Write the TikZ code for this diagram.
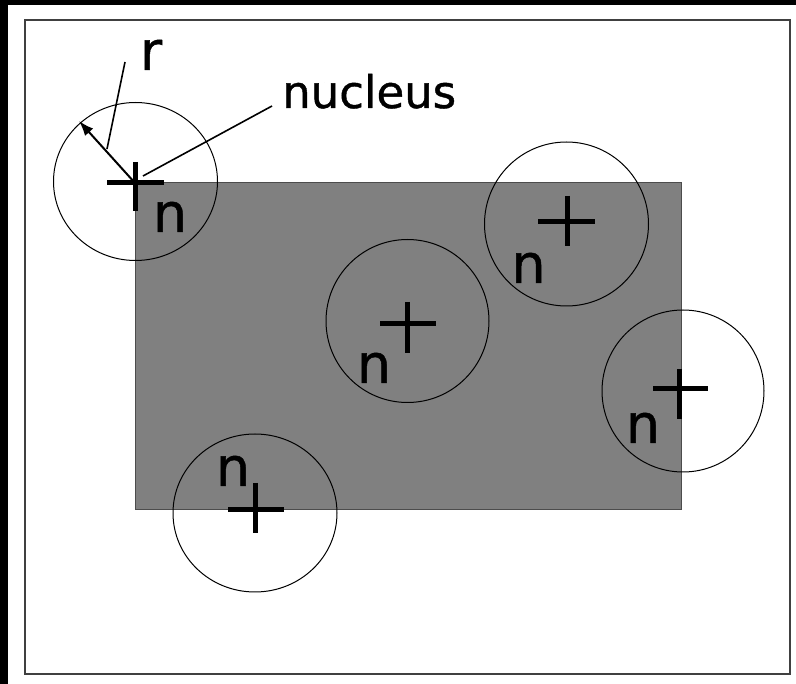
\documentclass[tikz,border=0pt]{standalone}
\usepackage{fontspec}
\newfontfamily\lab[FakeBold=0.9]{DejaVu Sans}
\usetikzlibrary{arrows.meta}
\tikzset{
  frameline/.style={draw=black!75, line width=1.6pt},
  region/.style={fill=gray, draw=black!70, line width=1pt},
  rangecircle/.style={draw=black, line width=1pt},
  crossline/.style={draw=black, line width=5pt},
  nlabel/.style={inner sep=0pt, anchor=base, font=\lab\fontsize{54}{60}\selectfont},
  leader/.style={draw=black, line width=1.6pt},
}
\begin{document}
\begin{tikzpicture}[x=1pt,y=-1pt]
\useasboundingbox (0,0) rectangle (796,684);
\fill[white] (0,0) rectangle (796,684);
\fill[black] (0,0) rectangle (8,684);
\fill[black] (0,0) rectangle (796,5);
\draw[frameline] (25,20) rectangle (790,674);
% region
\draw[region] (135,183) rectangle (681,510);
% circles
\coordinate (k1) at (135.5,181.5);
\coordinate (k2) at (566.5,224);
\coordinate (k3) at (407.5,321);
\coordinate (k4) at (683,391);
\coordinate (k5) at (255,513);
\draw[rangecircle] (k1) circle[x radius=82, y radius=79];
\draw[rangecircle] (k2) circle[radius=82];
\draw[rangecircle] (k3) circle[radius=81.5];
\draw[rangecircle] (k4) circle[radius=81];
\draw[rangecircle] (k5) circle[x radius=82, y radius=79];
% crosses
\coordinate (c1) at (135,183);
\coordinate (c2) at (567,222);
\coordinate (c3) at (407,324);
\coordinate (c4) at (679,389);
\coordinate (c5) at (255,510);
\draw[crossline] (107,183) -- (164,183) (135,162) -- (135,211);
\draw[crossline] (538,222) -- (595,222) (567,196) -- (567,246);
\draw[crossline] (380,324) -- (436,324) (407,302) -- (407,353);
\draw[crossline] (653,389) -- (708,389) (679,369) -- (679,419);
\draw[crossline] (228,510) -- (284,510) (255,483) -- (255,533);
% labels
\node[nlabel] (n1) at (170,232) {n};
\node[nlabel] (n2) at (528.5,283) {n};
\node[nlabel] (n3) at (374,383) {n};
\node[nlabel] (n4) at (643,443) {n};
\node[nlabel] (n5) at (233,486) {n};
\node[nlabel] (r) at (151,70) {r};
\node[inner sep=0pt, anchor=base west, font=\lab\fontsize{45}{50}\selectfont] (nuc) at (282,108) {nucleus};
% radius arrow
\coordinate (rtip) at (79,121);
\draw[line width=2pt, -{Latex[length=15pt,width=11pt]}] (c1) -- (rtip);
% leaders
\coordinate (rl) at (125,62);
\coordinate (rm) at (107,149);
\draw[leader] (rl) -- (rm);
\coordinate (nl) at (272,106);
\coordinate (nm) at (143,176);
\draw[leader] (nl) -- (nm);
\end{tikzpicture}
\end{document}
